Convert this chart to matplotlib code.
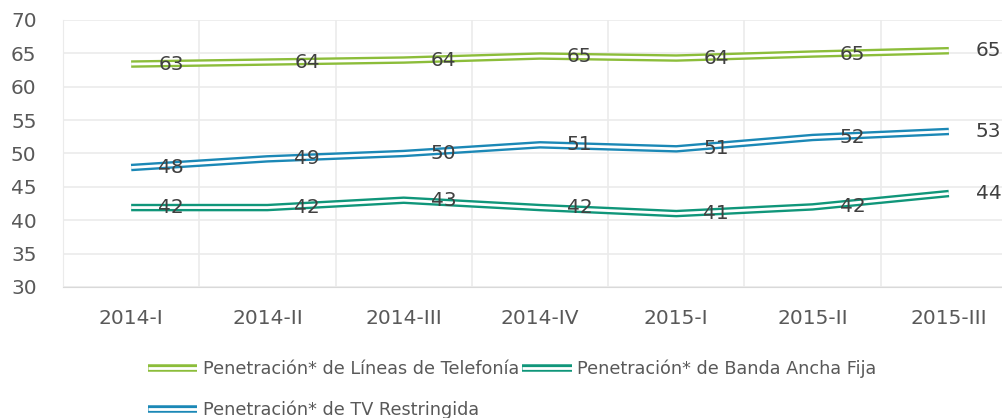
import numpy as np
import matplotlib
matplotlib.use("Agg")
import matplotlib.pyplot as plt
import matplotlib.patheffects as pe

# Data
periodos = ["2014-I", "2014-II", "2014-III", "2014-IV", "2015-I", "2015-II", "2015-III"]
telefonia = [63.4, 63.7, 64.0, 64.6, 64.3, 64.9, 65.4]
banda_ancha = [41.9, 41.9, 43.0, 41.9, 41.0, 42.0, 44.0]
tv_restringida = [47.9, 49.2, 50.0, 51.3, 50.7, 52.4, 53.3]

series = [
    ("Penetración* de Líneas de Telefonía", telefonia, "#8cbd3a"),
    ("Penetración* de Banda Ancha Fija", banda_ancha, "#10967a"),
    ("Penetración* de TV Restringida", tv_restringida, "#1b88b6"),
]

plt.rcParams["font.family"] = ["DejaVu Sans"]

fig = plt.figure(figsize=(10.03, 4.18), dpi=100)
ax = fig.add_axes([63 / 1003, 1 - 287 / 418, 954 / 1003, 267 / 418])

x = np.arange(len(periodos))
lineas = []
for nombre, valores, color in series:
    ln, = ax.plot(x, valores, color=color, lw=5.4, label=nombre, solid_capstyle="butt",
                  path_effects=[pe.Normal(), pe.Stroke(linewidth=2.0, foreground="white")])
    lineas.append(ln)
    for xi, v in zip(x, valores):
        ax.annotate(f"{round(v)}", (xi, v), xytext=(27, 0), textcoords="offset pixels",
                    ha="left", va="center", fontsize=14.5, color="#404040")

ax.set_xlim(-0.5, len(periodos) - 0.5)
ax.set_ylim(30, 70)
ax.set_yticks(np.arange(30, 71, 5))
ax.set_xticks(x)
ax.set_xticklabels(periodos)
ax.set_xticks(np.arange(0.5, len(periodos) - 1, 1), minor=True)

ax.grid(True, axis="y", color="#ebebeb", lw=1.2)
ax.grid(True, axis="x", which="minor", color="#ebebeb", lw=1.2)
ax.set_axisbelow(True)
for s in ["top", "right"]:
    ax.spines[s].set_visible(False)
ax.spines["left"].set_color("#ebebeb")
ax.spines["bottom"].set_color("#d9d9d9")
ax.tick_params(axis="both", which="both", length=0, colors="#595959")
ax.tick_params(axis="x", labelsize=14.5, pad=16)
ax.tick_params(axis="y", labelsize=14.5, pad=19)

# column-wise fill: first column gets Telefonía + TV, second gets Banda Ancha
orden = [lineas[0], lineas[2], lineas[1]]
fig.legend(orden, [l.get_label() for l in orden], loc="upper left",
           bbox_to_anchor=(148 / 1003, 1 - 360 / 418), ncol=2,
           frameon=False, fontsize=12.7, handlelength=2.8, handletextpad=0.3,
           columnspacing=0.2, labelspacing=1.25, borderpad=0, borderaxespad=0,
           labelcolor="#595959")

fig.savefig("out.png", dpi=100)
